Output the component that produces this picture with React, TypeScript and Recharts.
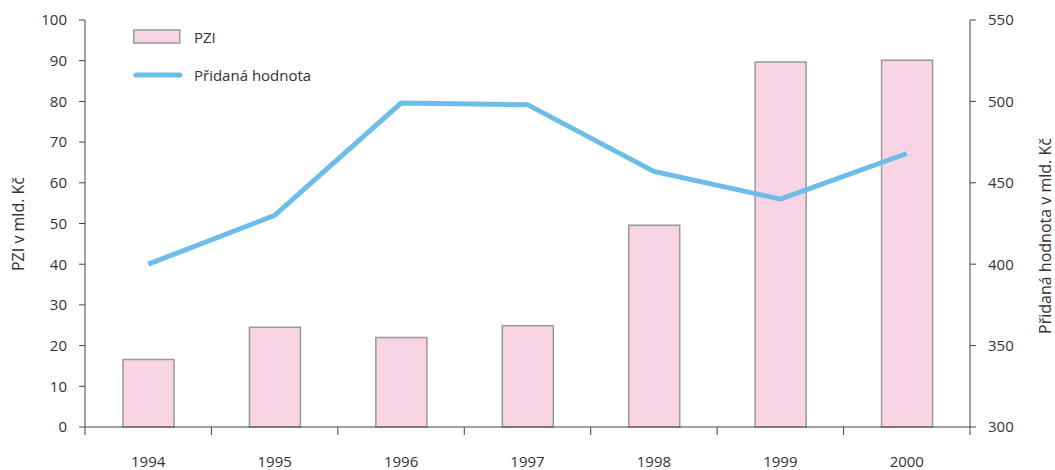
import {
  ComposedChart, Bar, Line, XAxis, YAxis,
} from "recharts";

const years = ["1994", "1995", "1996", "1997", "1998", "1999", "2000"];
const pzi = [16.6, 24.5, 22.0, 24.9, 49.6, 89.7, 90.1];
const addedValue = [400, 430, 499, 498, 457, 440, 468];
const leftTicks = [0, 10, 20, 30, 40, 50, 60, 70, 80, 90, 100];
const rightTicks = [300, 350, 400, 450, 500, 550];

const data = years.map((year, i) => ({ year, pzi: pzi[i], value: addedValue[i] }));

const FONT = "'Open Sans', sans-serif";
const TEXT = "#333";
const BAR_FILL = "#f8d4e5";
const BAR_STROKE = "#999";
const LINE = "#6ebde9";
const AXIS = "#444";

// category ticks sit on the boundaries between years, labels in the middle
function YearTick(props: any) {
  const { x, y, payload, index } = props;
  const half = payload?.offset ?? 885 / 7 / 2;
  const last = index === years.length - 1;
  return (
    <g>
      <line x1={x - half} y1={y} x2={x - half} y2={y + 8} stroke={AXIS} />
      {last && <line x1={x + half} y1={y} x2={x + half} y2={y + 8} stroke={AXIS} />}
      <text x={x} y={y + 40} textAnchor="middle" fill={TEXT} fontSize={15} fontFamily={FONT}>
        {payload.value}
      </text>
    </g>
  );
}

function LegendBox() {
  return (
    <div style={{ position: "absolute", left: 133, top: 26, fontFamily: FONT, fontSize: 15, color: TEXT }}>
      <div style={{ display: "flex", alignItems: "center", height: 22 }}>
        <svg width={61} height={16}>
          <rect x={0.75} y={1} width={46} height={13} fill={BAR_FILL} stroke={BAR_STROKE} strokeWidth={1.5} />
        </svg>
        <span>PZI</span>
      </div>
      <div style={{ display: "flex", alignItems: "center", height: 22, marginTop: 16 }}>
        <svg width={61} height={16}>
          <line x1={3} y1={8} x2={47} y2={8} stroke={LINE} strokeWidth={5} strokeLinecap="round" />
        </svg>
        <span>Přidaná hodnota</span>
      </div>
    </div>
  );
}

function SideLabel({ x, y, text }: { x: number; y: number; text: string }) {
  return (
    <text x={x} y={y} transform={`rotate(-90 ${x} ${y})`} textAnchor="middle" dominantBaseline="central"
      fill={TEXT} fontSize={16} fontFamily={FONT}>
      {text}
    </text>
  );
}

export default function App() {
  return (
    <div style={{ position: "absolute", left: 0, top: 0, width: 1055, height: 470, background: "#fff" }}>
      <ComposedChart width={1055} height={470} data={data} margin={{ top: 20, right: 0, bottom: 0, left: 0 }}>
        <XAxis
          dataKey="year"
          height={43}
          stroke={AXIS}
          tickLine={false}
          tickSize={0}
          tickMargin={0}
          tick={<YearTick />}
          interval={0}
        />
        <YAxis
          yAxisId="left"
          orientation="left"
          width={85}
          domain={[0, 100]}
          ticks={leftTicks}
          stroke={AXIS}
          tickSize={6}
          tickMargin={12}
          tick={{ fill: TEXT, fontSize: 15, fontFamily: FONT }}
          label={{ content: () => <SideLabel x={18} y={224} text="PZI v mld. Kč" /> }}
        />
        <YAxis
          yAxisId="right"
          orientation="right"
          width={85}
          domain={[300, 550]}
          ticks={rightTicks}
          stroke={AXIS}
          tickSize={6}
          tickMargin={12}
          tick={{ fill: TEXT, fontSize: 15, fontFamily: FONT }}
          label={{ content: () => <SideLabel x={1045} y={236} text="Přidaná hodnota v mld. Kč" /> }}
        />
        <Bar
          yAxisId="left"
          dataKey="pzi"
          name="PZI"
          barSize={51}
          fill={BAR_FILL}
          stroke={BAR_STROKE}
          strokeWidth={1.5}
          isAnimationActive={false}
        />
        <Line
          yAxisId="right"
          dataKey="value"
          name="Přidaná hodnota"
          type="linear"
          stroke={LINE}
          strokeWidth={5}
          dot={false}
          activeDot={false}
          isAnimationActive={false}
        />
      </ComposedChart>
      <LegendBox />
    </div>
  );
}
